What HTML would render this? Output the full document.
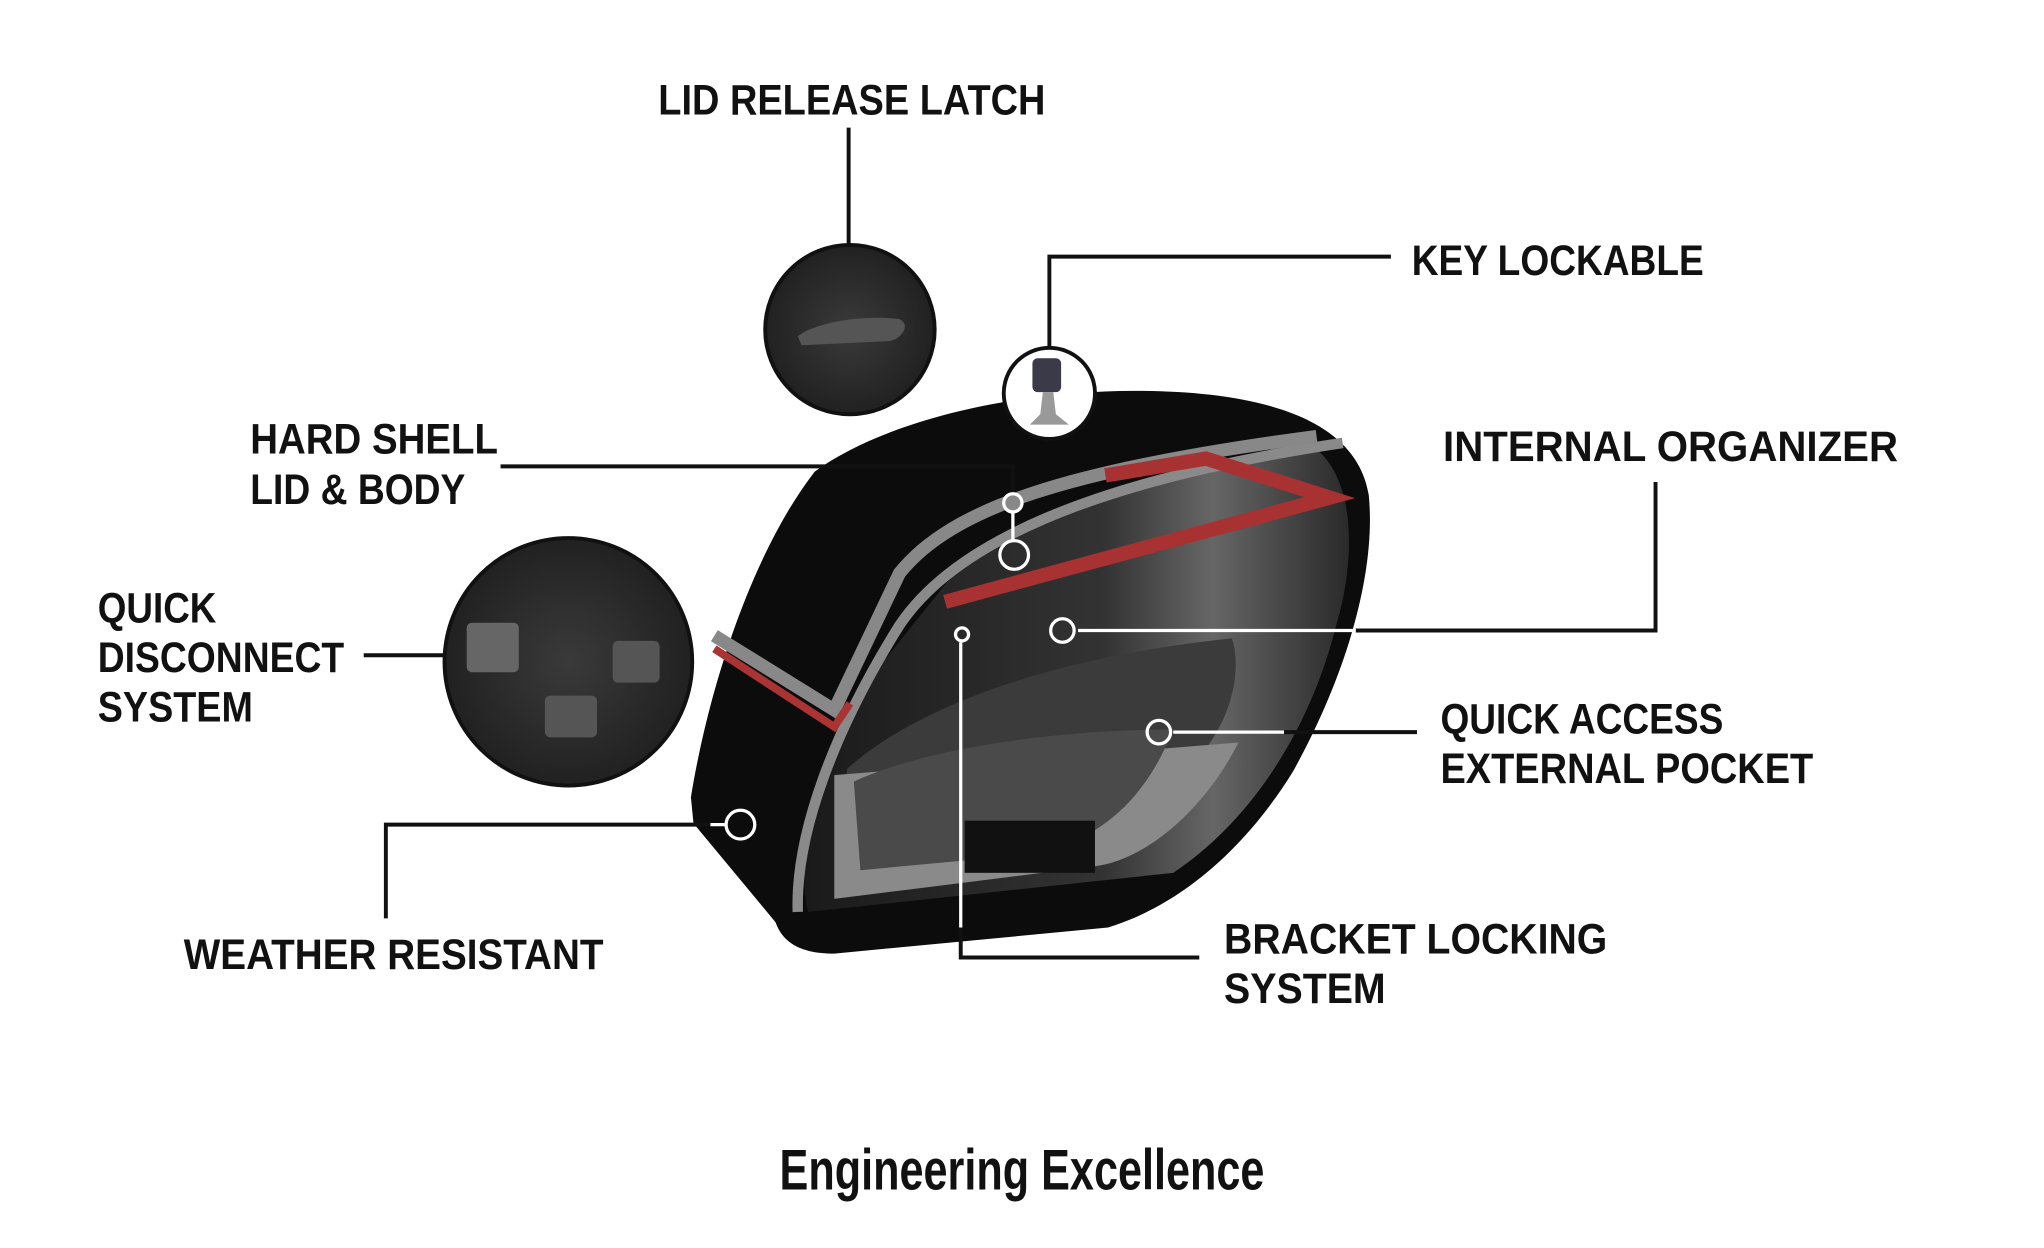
<!DOCTYPE html>
<html><head><meta charset="utf-8"><style>
html,body{margin:0;padding:0;background:#fff;}
svg{display:block}
text{font-family:"Liberation Sans Narrow","Liberation Sans",sans-serif;font-weight:bold;fill:#111}
</style></head><body>
<svg width="2044" height="1248" viewBox="0 0 1568 958" preserveAspectRatio="none" xmlns="http://www.w3.org/2000/svg">
<defs>
<linearGradient id="inner" x1="0" y1="0" x2="1" y2="0">
<stop offset="0" stop-color="#1a1a1a"/><stop offset="0.55" stop-color="#333"/><stop offset="0.75" stop-color="#666"/><stop offset="1" stop-color="#2a2a2a"/>
</linearGradient>
<radialGradient id="inset" cx="0.5" cy="0.5" r="0.6"><stop offset="0" stop-color="#3a3a3a"/><stop offset="1" stop-color="#1c1c1c"/></radialGradient>
</defs>

<path d="M530,612 C545,520 580,420 625,362 C680,322 780,300 870,300 C960,300 1040,318 1050,380 C1056,440 1032,520 992,592 C955,652 905,695 850,712 L640,732 C612,732 600,722 595,708 L532,632 Z" fill="#0c0c0c"/>
<path d="M720,455 C760,400 880,360 1010,345 C1040,370 1040,430 1025,480 C1005,560 960,630 900,670 L620,700 C610,660 625,580 660,530 Z" fill="url(#inner)"/>
<path d="M650,590 C700,545 800,505 945,490 C955,520 940,570 900,600 L640,650 Z" fill="#3b3b3b"/>
<path d="M640,595 L950,570 C925,620 880,660 840,665 L640,690 Z" fill="#8a8a8a"/>
<path d="M655,600 C720,570 830,560 900,560 C880,610 850,640 800,655 L660,668 Z" fill="#4a4a4a"/>
<rect x="740" y="630" width="100" height="40" fill="#111"/>
<path d="M612,700 C610,640 640,560 690,480 C730,420 830,370 1030,340" fill="none" stroke="#8a8a8a" stroke-width="8"/>
<path d="M548,488 L640,545 L690,440 C730,390 820,360 1010,335" fill="none" stroke="#888" stroke-width="10"/>
<path d="M548,498 L640,558 L652,540" fill="none" stroke="#a33" stroke-width="6"/>
<path d="M725,462 L1020,382 L925,352 L848,365" fill="none" stroke="#a83232" stroke-width="11"/>
<circle cx="652" cy="253" r="65" fill="url(#inset)" stroke="#111" stroke-width="3"/>
<path d="M612,258 C630,245 670,242 690,245 C700,250 690,262 680,262 L615,265 Z" fill="#555"/>
<circle cx="436" cy="508" r="95" fill="url(#inset)" stroke="#111" stroke-width="3"/>
<rect x="358" y="478" width="40" height="38" rx="4" fill="#666"/>
<rect x="470" y="492" width="36" height="32" rx="4" fill="#555"/>
<rect x="418" y="534" width="40" height="32" rx="4" fill="#555"/>
<circle cx="805" cy="302" r="35" fill="#fff" stroke="#111" stroke-width="3"/>
<rect x="792" y="275" width="22" height="26" rx="4" fill="#3a3a48"/>
<path d="M800,301 L808,301 L810,318 L820,326 L790,326 L798,318 Z" fill="#999"/>

<g stroke="#111" stroke-width="3" fill="none">
<line x1="651" y1="98" x2="651" y2="188"/>
<polyline points="805,268 805,197 1067,197"/>
<polyline points="384,358 777,358 777,378"/>
<line x1="279" y1="503" x2="342" y2="503"/>
<polyline points="1040,484 1270,484 1270,370"/>
<line x1="985" y1="562" x2="1087" y2="562"/>
<polyline points="545,633 296,633 296,705"/>
<polyline points="737,712 737,735 920,735"/>
</g>
<g stroke="#fff" stroke-width="2.5" fill="none">
<line x1="777" y1="394" x2="777" y2="415"/>
<line x1="827" y1="484" x2="1040" y2="484"/>
<line x1="900" y1="562" x2="985" y2="562"/>
<line x1="545" y1="633" x2="557" y2="633"/>
<line x1="737" y1="493" x2="737" y2="712"/>
</g>
<g fill="none" stroke="#fff" stroke-width="2.5">
<circle cx="777" cy="386" r="7" fill="#888"/>
<circle cx="778" cy="426" r="11"/>
<circle cx="815" cy="484" r="9"/>
<circle cx="889" cy="562" r="9"/>
<circle cx="568" cy="633" r="11"/>
<circle cx="738" cy="487" r="5"/>
</g>

<text x="505" y="88" font-size="33" textLength="297" lengthAdjust="spacingAndGlyphs">LID RELEASE LATCH</text>
<text x="1083" y="211" font-size="33" textLength="224" lengthAdjust="spacingAndGlyphs">KEY LOCKABLE</text>
<text x="192" y="348" font-size="33" textLength="190" lengthAdjust="spacingAndGlyphs">HARD SHELL</text>
<text x="192" y="387" font-size="33" textLength="165" lengthAdjust="spacingAndGlyphs">LID &amp; BODY</text>
<text x="1107" y="354" font-size="33" textLength="349" lengthAdjust="spacingAndGlyphs">INTERNAL ORGANIZER</text>
<text x="75" y="478" font-size="33" textLength="91" lengthAdjust="spacingAndGlyphs">QUICK</text>
<text x="75" y="516" font-size="33" textLength="189" lengthAdjust="spacingAndGlyphs">DISCONNECT</text>
<text x="75" y="554" font-size="33" textLength="119" lengthAdjust="spacingAndGlyphs">SYSTEM</text>
<text x="1105" y="563" font-size="33" textLength="217" lengthAdjust="spacingAndGlyphs">QUICK ACCESS</text>
<text x="1105" y="601" font-size="33" textLength="286" lengthAdjust="spacingAndGlyphs">EXTERNAL POCKET</text>
<text x="141" y="744" font-size="33" textLength="322" lengthAdjust="spacingAndGlyphs">WEATHER RESISTANT</text>
<text x="939" y="732" font-size="33" textLength="294" lengthAdjust="spacingAndGlyphs">BRACKET LOCKING</text>
<text x="939" y="770" font-size="33" textLength="124" lengthAdjust="spacingAndGlyphs">SYSTEM</text>
<text x="598" y="913" font-size="44" textLength="372" lengthAdjust="spacingAndGlyphs">Engineering Excellence</text>
</svg>
</body></html>
